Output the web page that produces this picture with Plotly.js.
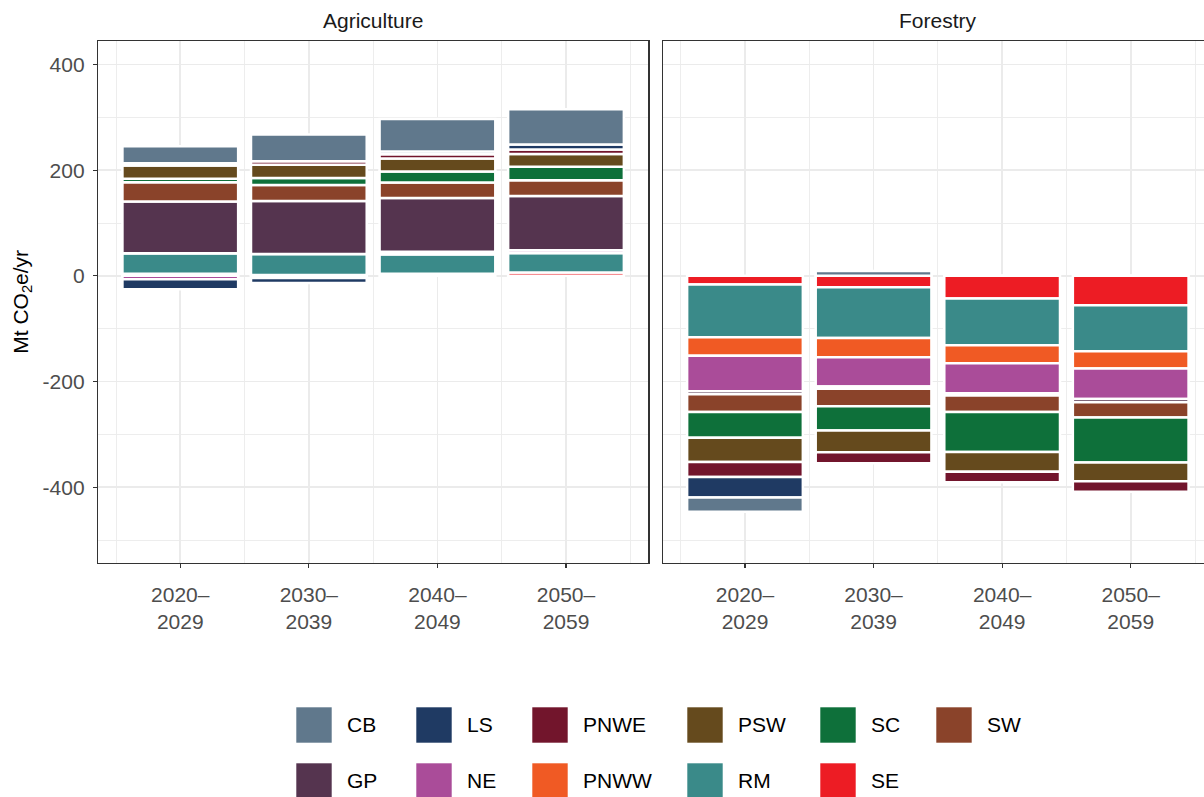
<!DOCTYPE html>
<html>
<head>
<meta charset="utf-8">
<script src="https://cdn.plot.ly/plotly-3.0.1.min.js"></script>
<style>
html,body{margin:0;padding:0;overflow:hidden;background:#fff}
#chart{width:1214px;height:797px}
</style>
</head>
<body>
<div id="chart"></div>
<script>
// ---------------- DATA ----------------
const periods = [2025, 2035, 2045, 2055];           // decade mid-points
const periodLabels = ['2020–<br>2029', '2030–<br>2039', '2040–<br>2049', '2050–<br>2059'];
const minorBreaksX = [2020, 2030, 2040, 2050, 2060];
const panels = ['Agriculture', 'Forestry'];

// stacking order (first = nearest zero)
const regions = ['SE', 'RM', 'PNWW', 'NE', 'GP', 'SW', 'SC', 'PSW', 'PNWE', 'LS', 'CB'];
// legend order (alphabetical, column-major)
const legendRegions = ['CB', 'GP', 'LS', 'NE', 'PNWE', 'PNWW', 'PSW', 'RM', 'SC', 'SE', 'SW'];

// Agriculture, Mt CO2e/yr per decade
const agricultureSE   = [4, 1.5, 4, 6.5];
const agricultureRM   = [39, 40, 37, 37];
const agriculturePNWW = [0, 0, 0, 0];
const agricultureNE   = [-6.5, -4, 4.5, 5];
const agricultureGP   = [97.5, 100, 102, 102.6];
const agricultureSW   = [36.7, 30.3, 29, 30];
const agricultureSC   = [6.6, 13.5, 21, 25.5];
const agriculturePSW  = [25, 24.8, 24.8, 23.9];
const agriculturePNWE = [4.2, 6.8, 8, 8.5];
const agricultureLS   = [-19, -9.3, 5, 9.8];
const agricultureCB   = [32.3, 50.4, 61.5, 66.7];

// Forestry, Mt CO2e/yr per decade
const forestrySE   = [-16.4, -21.5, -42.8, -55.5];
const forestryRM   = [-99.9, -96.2, -88.6, -87.3];
const forestryPNWW = [-34.6, -36.5, -34, -32.4];
const forestryNE   = [-67.6, -54.9, -56.8, -57.9];
const forestryGP   = [-5.5, -4.7, -4.2, -6];
const forestrySW   = [-33.6, -32.7, -31.1, -28.7];
const forestrySC   = [-48.8, -46, -75.9, -85.4];
const forestryPSW  = [-45.8, -41, -37.2, -35.4];
const forestryPNWE = [-28.4, -21.2, -20, -19.8];
const forestryLS   = [-38.7, 0, 0, 0];
const forestryCB   = [-27, 9, 0, 0];

const yTicks = [-400, -200, 0, 200, 400];
const yTickLabels = ['-400', '-200', '0', '200', '400'];
const yMinor = [-500, -300, -100, 100, 300];

// ---------------- STYLE ----------------
const regionColors = {
  CB: '#60788C', LS: '#1F3A63', PNWE: '#72152C', PSW: '#654A1D', SC: '#0E703A', SW: '#8A432A',
  GP: '#55344F', NE: '#AA4C99', PNWW: '#F05A24', RM: '#3A8A89', SE: '#ED1C24'
};
const agricultureData = {
  SE: agricultureSE, RM: agricultureRM, PNWW: agriculturePNWW, NE: agricultureNE, GP: agricultureGP,
  SW: agricultureSW, SC: agricultureSC, PSW: agriculturePSW, PNWE: agriculturePNWE, LS: agricultureLS, CB: agricultureCB
};
const forestryData = {
  SE: forestrySE, RM: forestryRM, PNWW: forestryPNWW, NE: forestryNE, GP: forestryGP,
  SW: forestrySW, SC: forestrySC, PSW: forestryPSW, PNWE: forestryPNWE, LS: forestryLS, CB: forestryCB
};

const W = 1214, H = 797;
const M = {l: 98, r: 1, t: 41, b: 0};
const plotH = H - M.t - M.b;
const FONT = 'Liberation Sans, Arial, Helvetica, sans-serif';
const FS = 21;

// legend layout (pixel positions of swatch columns / rows)
const legendColLeft = [296, 416, 532, 687, 820, 936];
const legendRowCenter = [725, 781];
const swatch = 36;
const legendDomainTop = 0.19;

const traces = [];
regions.forEach(r => {
  traces.push({
    type: 'bar', x: periods, y: agricultureData[r], width: 9, name: r,
    xaxis: 'x', yaxis: 'y', showlegend: false, hoverinfo: 'skip',
    marker: {color: regionColors[r], line: {color: '#FFFFFF', width: 2.5}}
  });
  traces.push({
    type: 'bar', x: periods, y: forestryData[r], width: 9, name: r,
    xaxis: 'x2', yaxis: 'y2', showlegend: false, hoverinfo: 'skip',
    marker: {color: regionColors[r], line: {color: '#FFFFFF', width: 2.5}}
  });
});

// custom legend (large keys like ggplot)
const lx = [], ly = [], lc = [], tx = [], ty = [];
legendRegions.forEach((r, i) => {
  const col = Math.floor(i / 2), row = i % 2;
  lx.push(legendColLeft[col] + swatch / 2);
  ly.push(legendRowCenter[row]);
  lc.push(regionColors[r]);
  tx.push(legendColLeft[col] + swatch + 15);
  ty.push(legendRowCenter[row] + 2);
});
traces.push({
  type: 'scatter', mode: 'markers', x: lx, y: ly, xaxis: 'x3', yaxis: 'y3',
  marker: {symbol: 'square', size: swatch, color: lc, line: {width: 0.6, color: '#FFFFFF'}},
  cliponaxis: false, showlegend: false, hoverinfo: 'skip'
});
traces.push({
  type: 'scatter', mode: 'text', x: tx, y: ty, text: legendRegions, xaxis: 'x3', yaxis: 'y3',
  textposition: 'middle right', textfont: {family: FONT, size: FS, color: '#000000'},
  cliponaxis: false, showlegend: false, hoverinfo: 'skip'
});

const pw = W - M.l - M.r;
const leftDom = [0, (648.3 - M.l) / pw];
const rightDom = [(662.7 - M.l) / pw, 1];
const yDomBottom = (H - 562.7) / plotH;

function xAxis(domain, anchor) {
  return {
    domain: domain, anchor: anchor, range: [2018.6, 2061.4],
    tickmode: 'array', tickvals: periods, ticktext: periodLabels,
    ticks: 'outside', ticklen: 4, tickwidth: 1.1, tickcolor: '#333333',
    ticklabelstandoff: 9,
    tickfont: {family: FONT, size: FS, color: '#4D4D4D'},
    showline: true, mirror: true, linecolor: '#333333', linewidth: 1.2,
    showgrid: true, gridcolor: '#EBEBEB', gridwidth: 1.8,
    minor: {tickmode: 'array', tickvals: minorBreaksX, showgrid: true, gridcolor: '#EBEBEB', gridwidth: 0.9, ticks: ''},
    zeroline: false, fixedrange: true
  };
}
function yAxis(anchor, labels) {
  return {
    domain: [yDomBottom, 1], anchor: anchor, range: [-542.7, 444.4],
    tickmode: 'array', tickvals: yTicks, ticktext: yTickLabels,
    ticks: labels ? 'outside' : '', ticklen: 4, tickwidth: 1.1, tickcolor: '#333333',
    showticklabels: labels, ticklabelstandoff: 4,
    tickfont: {family: FONT, size: FS, color: '#4D4D4D'},
    showline: true, mirror: true, linecolor: '#333333', linewidth: 1.2,
    showgrid: true, gridcolor: '#EBEBEB', gridwidth: 1.8,
    minor: {tickmode: 'array', tickvals: yMinor, showgrid: true, gridcolor: '#EBEBEB', gridwidth: 0.9, ticks: ''},
    zeroline: false, fixedrange: true
  };
}

const yaxis = yAxis('x', true);
yaxis.title = {text: 'Mt CO<sub>2</sub>e/yr', font: {family: FONT, size: FS, color: '#000000'}, standoff: 8};
const yaxis2 = yAxis('x2', false);
yaxis2.matches = 'y';

const layout = {
  width: W, height: H, margin: M,
  paper_bgcolor: '#FFFFFF', plot_bgcolor: 'rgba(0,0,0,0)',
  font: {family: FONT, size: FS, color: '#4D4D4D'},
  barmode: 'relative', showlegend: false,
  xaxis: xAxis(leftDom, 'y'),
  xaxis2: xAxis(rightDom, 'y2'),
  yaxis: yaxis, yaxis2: yaxis2,
  xaxis3: {domain: [0, 1], anchor: 'y3', range: [M.l, W - M.r], visible: false, fixedrange: true},
  yaxis3: {domain: [0, legendDomainTop], anchor: 'x3', range: [H - M.b, H - M.b - legendDomainTop * plotH], visible: false, fixedrange: true},
  annotations: [
    {text: panels[0], xref: 'paper', yref: 'paper', x: (leftDom[0] + leftDom[1]) / 2, xanchor: 'center', y: 1, yanchor: 'middle', yshift: 21,
     showarrow: false, font: {family: FONT, size: FS, color: '#1A1A1A'}},
    {text: panels[1], xref: 'paper', yref: 'paper', x: (rightDom[0] + rightDom[1]) / 2, xanchor: 'center', y: 1, yanchor: 'middle', yshift: 21,
     showarrow: false, font: {family: FONT, size: FS, color: '#1A1A1A'}}
  ]
};

Plotly.newPlot('chart', traces, layout, {displayModeBar: false, staticPlot: true});
</script>
</body>
</html>
